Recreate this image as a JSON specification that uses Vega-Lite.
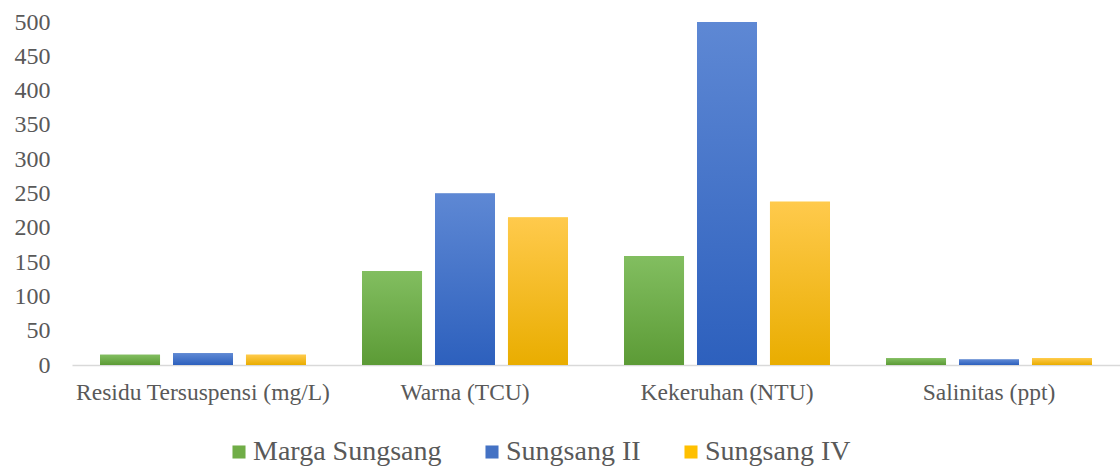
{
  "$schema": "https://vega.github.io/schema/vega-lite/v6.json",
  "width": 1048,
  "height": 343,
  "autosize": "none",
  "padding": {"left": 72, "top": 22, "right": 0, "bottom": 105},
  "background": "white",
  "config": {"view": {"stroke": null}, "font": "'Liberation Serif', 'Times New Roman', serif"},
  "data": {"values": [
    {"category": "Residu Tersuspensi (mg/L)", "series": "Marga Sungsang", "value": 15},
    {"category": "Residu Tersuspensi (mg/L)", "series": "Sungsang II", "value": 17},
    {"category": "Residu Tersuspensi (mg/L)", "series": "Sungsang IV", "value": 15},
    {"category": "Warna (TCU)", "series": "Marga Sungsang", "value": 137},
    {"category": "Warna (TCU)", "series": "Sungsang II", "value": 250},
    {"category": "Warna (TCU)", "series": "Sungsang IV", "value": 215},
    {"category": "Kekeruhan (NTU)", "series": "Marga Sungsang", "value": 159},
    {"category": "Kekeruhan (NTU)", "series": "Sungsang II", "value": 500},
    {"category": "Kekeruhan (NTU)", "series": "Sungsang IV", "value": 238},
    {"category": "Salinitas (ppt)", "series": "Marga Sungsang", "value": 10},
    {"category": "Salinitas (ppt)", "series": "Sungsang II", "value": 8},
    {"category": "Salinitas (ppt)", "series": "Sungsang IV", "value": 10}
  ]},
  "encoding": {
    "x": {"field": "category", "type": "nominal", "sort": null,
      "scale": {"paddingInner": 0.214, "paddingOuter": 0.107},
      "axis": {"title": null, "labelAngle": 0, "labelFont": "'Liberation Serif', 'Times New Roman', serif", "labelFontSize": 23.5, "labelLimit": 0, "labelColor": "#595959", "labelPadding": 15, "ticks": false, "domainColor": "#d9d9d9", "domainWidth": 1.5, "grid": false}},
    "xOffset": {"field": "series", "type": "nominal", "sort": null,
      "scale": {"paddingInner": 0.178, "paddingOuter": 0}},
    "y": {"field": "value", "type": "quantitative",
      "scale": {"domain": [0, 500], "nice": false},
      "axis": {"title": null, "values": [0, 50, 100, 150, 200, 250, 300, 350, 400, 450, 500], "grid": false, "domain": false, "ticks": false, "labelFont": "'Liberation Serif', 'Times New Roman', serif", "labelFontSize": 24, "labelColor": "#595959", "labelPadding": 22}}
  },
  "layer": [
    {
      "mark": {"type": "bar"},
      "encoding": {
        "color": {"field": "series", "type": "nominal", "sort": null,
          "scale": {"domain": ["Marga Sungsang", "Sungsang II", "Sungsang IV"], "range": ["#70ad47", "#4472c4", "#ffc000"]},
          "legend": {"title": null, "orient": "none", "direction": "horizontal", "legendX": 153, "legendY": 416, "symbolType": "square", "symbolSize": 170, "symbolStrokeWidth": 0, "labelFont": "'Liberation Serif', 'Times New Roman', serif", "labelFontSize": 28, "labelLimit": 0, "labelColor": "#595959", "columnPadding": 36, "labelOffset": 0}}
      }
    },
    {
      "transform": [{"filter": "datum.series === 'Marga Sungsang'"}],
      "mark": {"type": "bar", "color": {"gradient": "linear", "x1": 0, "y1": 0, "x2": 0, "y2": 1, "stops": [{"offset": 0, "color": "#82be60"}, {"offset": 1, "color": "#5c9b36"}]}}
    },
    {
      "transform": [{"filter": "datum.series === 'Sungsang II'"}],
      "mark": {"type": "bar", "color": {"gradient": "linear", "x1": 0, "y1": 0, "x2": 0, "y2": 1, "stops": [{"offset": 0, "color": "#5e88d4"}, {"offset": 1, "color": "#2d60bd"}]}}
    },
    {
      "transform": [{"filter": "datum.series === 'Sungsang IV'"}],
      "mark": {"type": "bar", "color": {"gradient": "linear", "x1": 0, "y1": 0, "x2": 0, "y2": 1, "stops": [{"offset": 0, "color": "#ffca4c"}, {"offset": 1, "color": "#e9ad00"}]}}
    }
  ]
}
